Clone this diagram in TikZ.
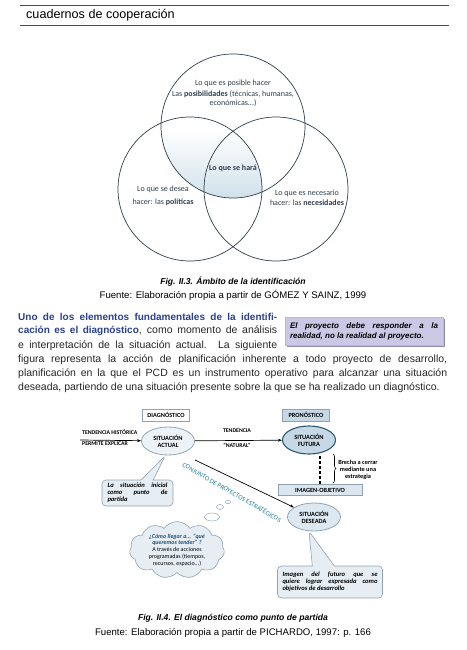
\documentclass[tikz,border=0pt]{standalone}
\usepackage{fontspec}
\setmainfont{Liberation Sans}
\newfontfamily\figfont{Carlito}
\usepackage{tikz}
\usetikzlibrary{positioning,arrows.meta,calc,shapes.geometric,shapes.callouts,shapes.symbols,decorations.pathreplacing,shadows}
\definecolor{ruleGray}{HTML}{4A4A4A}
\definecolor{vennLine}{HTML}{2F3D4C}
\definecolor{vennFill}{HTML}{CFE0EA}
\definecolor{leadBlue}{HTML}{2A3F8F}
\definecolor{noteFill}{HTML}{CAC8E4}
\definecolor{noteShadow}{HTML}{8E8CB2}
\definecolor{boxLine}{HTML}{8FA3B3}
\definecolor{paleFill}{HTML}{EEF3F7}
\definecolor{futureFill}{HTML}{C6D8E6}
\definecolor{futureLine}{HTML}{2C5873}
\definecolor{imgFill}{HTML}{DCE6EE}
\definecolor{deseadaFill}{HTML}{DDE8F0}
\definecolor{tealText}{HTML}{1C7D9E}
\definecolor{calloutFill}{HTML}{E6EEF4}
\definecolor{cloudText}{HTML}{1F4F7A}
\newcommand{\jline}[2]{\makebox[#1][s]{#2}}
\newcommand{\preg}[1]{\textcolor{cloudText}{\bfseries\itshape #1}}
\newcommand{\lead}[1]{\textcolor{leadBlue}{\fontsize{10}{12}\selectfont\bfseries #1}}

\begin{document}
\begin{tikzpicture}[x=1pt, y=-1pt,
  venn/.style={draw=vennLine, line width=0.7pt},
  vtext/.style={font=\figfont\fontsize{8}{9}\selectfont, text=vennLine, align=center, inner sep=0pt},
  caption/.style={font=\fontsize{8.6}{10}\selectfont\bfseries\itshape, inner sep=0pt},
  source/.style={font=\fontsize{9.6}{11}\selectfont, inner sep=0pt},
  bodyline/.style={anchor=west, inner sep=0pt, text=black!85, font=\fontsize{10.5}{12}\selectfont},
  tagbox/.style={draw=boxLine, line width=0.6pt, minimum width=47pt, minimum height=12pt, inner sep=1pt, font=\figfont\fontsize{6.3}{6.5}\selectfont\bfseries},
  situacion/.style={ellipse, draw=boxLine, fill=paleFill, line width=0.8pt, minimum width=53pt, minimum height=28pt, inner sep=0pt, align=center, font=\figfont\fontsize{6.4}{7.2}\selectfont\bfseries},
  caps/.style={font=\figfont\fontsize{5.8}{6.5}\selectfont\bfseries, inner sep=0pt},
  flecha/.style={-{Stealth[length=4pt,width=3pt]}, line width=0.7pt},
  bocadillo/.style={rectangle callout, rounded corners=4pt, draw=boxLine, fill=calloutFill, line width=0.6pt, font=\figfont\fontsize{6.6}{7}\selectfont\bfseries\itshape, align=left, inner sep=3pt},
  burbuja/.style={ellipse, draw=boxLine, fill=white, line width=0.5pt, inner sep=0pt}
]
\useasboundingbox (0,0) rectangle (466,650);

% Cabecera
\draw[ruleGray, line width=0.9pt] (20,5) -- (449,5);
\draw[ruleGray, line width=0.9pt] (20,25) -- (449,25);
\node[anchor=west, inner sep=0pt, font=\fontsize{12.6}{15}\selectfont] (cabecera) at (26,15) {cuadernos de cooperación};

% Ambito de la identificacion
\coordinate (cTop) at (233,126);
\coordinate (cIzq) at (190,189);
\coordinate (cDer) at (276,189);
\begin{scope}
  \clip (cTop) circle[radius=72];
  \clip (cIzq) circle[radius=72];
  \shade[top color=white, bottom color=vennFill] (150,130) rectangle (320,199);
\end{scope}
\draw[venn] (cTop) circle[radius=72];
\draw[venn] (cIzq) circle[radius=72];
\draw[venn] (cDer) circle[radius=72];

\node[vtext] (posible) at (233,83) {Lo que es posible hacer};
\node[vtext] (posib) at (233,99) {Las \textbf{posibilidades} (técnicas, humanas,\\económicas...)};
\node[vtext] (hara) at (233,168) {\textbf{Lo que se hará}};
\node[vtext, font=\figfont\fontsize{8}{12.5}\selectfont] (desea) at (163,196) {Lo que se desea\\hacer: las \textbf{políticas}};
\node[vtext, font=\figfont\fontsize{8}{10.5}\selectfont] (necesario) at (307,198) {Lo que es necesario\\hacer: las \textbf{necesidades}};

\node[caption] (fig3) at (233,282) {Fig. II.3. Ámbito de la identificación};
\node[source] (fuente3) at (233,295) {Fuente: Elaboración propia a partir de GÓMEZ Y SAINZ, 1999};

% Texto
\node[bodyline] (l1) at (18,317) {\jline{259pt}{\lead{Uno de los elementos fundamentales de la identifi-}}};
\node[bodyline] (l2) at (18,331) {\jline{259pt}{\lead{cación es el diagnóstico}, como momento de análisis}};
\node[bodyline] (l3) at (18,345.5) {\jline{259pt}{e interpretación de la situación actual. La siguiente}};
\node[bodyline] (l4) at (18,360) {\jline{429pt}{figura representa la acción de planificación inherente a todo proyecto de desarrollo,}};
\node[bodyline] (l5) at (18,374) {\jline{429pt}{planificación en la que el PCD es un instrumento operativo para alcanzar una situación}};
\node[bodyline] (l6) at (18,388) {deseada, partiendo de una situación presente sobre la que se ha realizado un diagnóstico.};

\node[draw=noteShadow!60, fill=noteFill, line width=0.4pt, minimum width=158pt, minimum height=28pt, inner sep=0pt,
  drop shadow={shadow xshift=1.5pt, shadow yshift=-1.5pt, fill=noteShadow, opacity=1},
  font=\fontsize{8}{10}\selectfont\bfseries\itshape, align=left] (nota) at (364,331)
  {\jline{148pt}{El proyecto debe responder a la}\\realidad, no la realidad al proyecto.};

% El diagnostico como punto de partida
\node[tagbox, fill=white] (diag) at (166,415) {DIAGNÓSTICO};
\node[tagbox, fill=futureFill] (pron) at (306,415) {PRONÓSTICO};

\node[situacion] (sa) at (168,441) {SITUACIÓN\\ACTUAL};
\node[situacion, fill=futureFill, draw=futureLine, line width=1.1pt] (sf) at (309,440) {SITUACIÓN\\FUTURA};
\node[situacion, fill=deseadaFill] (sd) at (314,517) {SITUACIÓN\\DESEADA};
\node[tagbox, fill=imgFill, minimum width=84pt, minimum height=11pt] (io) at (320,490) {IMAGEN-OBJETIVO};

\coordinate (th) at (80,440);
\node[caps, anchor=south west] (tendh) at (82,435) {TENDENCIA HISTÓRICA};
\node[caps, anchor=north west] (expl) at (82,441) {PERMITE EXPLICAR};
\draw[flecha] (th) -- (sa);

\node[caps] (tend) at (237,431) {TENDENCIA};
\node[caps] (natural) at (237,445) {“NATURAL”};
\draw[flecha] (sa) -- (sf);

\draw[line width=1.1pt, dash pattern=on 3pt off 2pt] (io.north) -- (io.north |- sf.south);
\draw[decorate, decoration={brace, amplitude=3pt}, line width=0.6pt] (333,454) -- (333,483);
\node[caps, align=center, font=\figfont\fontsize{6.3}{7.2}\selectfont\bfseries] (brecha) at (358,470) {Brecha a cerrar\\mediante una\\estrategia};

\coordinate (cp0) at (195,460);
\draw[flecha] (cp0) -- (sd);
\node[rotate=-30, inner sep=0pt, text=tealText, font=\figfont\fontsize{6.6}{7.5}\selectfont] (conj) at (232,492) {CONJUNTO DE PROYECTOS ESTRATÉGICOS};

\node[bocadillo, minimum width=71pt, minimum height=26pt, callout absolute pointer={(sa.260)}, callout pointer width=12pt] (inicial) at (137.5,493)
  {\jline{60pt}{La situación inicial}\\\jline{60pt}{como punto de}\\partida};

\node[cloud, cloud puffs=11, cloud puff arc=110, aspect=1.7, draw=boxLine, fill=calloutFill, line width=0.6pt,
  minimum width=95pt, minimum height=56pt, inner sep=0pt, align=center, font=\figfont\fontsize{6}{6.8}\selectfont] (nube) at (177,550)
  {\preg{¿Cómo llegar a... “qué}\\\preg{queremos tender” ?}\\A través de acciones\\programadas (tiempos,\\recursos, espacio...)};
\node[burbuja, minimum width=15pt, minimum height=8pt] (b1) at (212,517) {};
\node[burbuja, minimum width=7pt, minimum height=5pt] (b2) at (220,507) {};
\node[burbuja, minimum width=5pt, minimum height=3.5pt] (b3) at (228,502) {};

\node[bocadillo, minimum width=105pt, minimum height=32pt, callout absolute pointer={(sd.250)}, callout pointer width=22pt] (imagen) at (330,582)
  {\jline{95pt}{Imagen del futuro que se}\\\jline{95pt}{quiere lograr expresada como}\\objetivos de desarrollo};

\node[caption] (fig4) at (233,618) {Fig. II.4. El diagnóstico como punto de partida};
\node[source] (fuente4) at (233,633) {Fuente: Elaboración propia a partir de PICHARDO, 1997: p. 166};
\end{tikzpicture}
\end{document}
